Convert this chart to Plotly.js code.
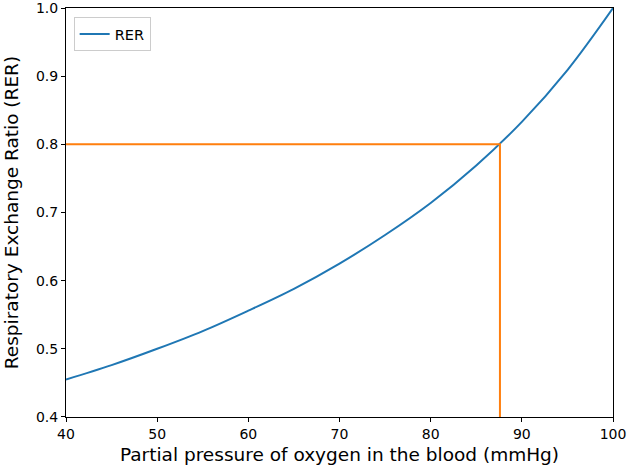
<!DOCTYPE html>
<html>
<head>
<meta charset="utf-8">
<script src="https://cdn.plot.ly/plotly-3.0.1.min.js"></script>
<style>html,body{margin:0;padding:0;background:#fff;}</style>
</head>
<body>
<div id="chart" style="width:630px;height:472px;"></div>
<script>
// Partial pressure of oxygen (mmHg) and read-off RER values
const pressure = [40, 45, 50, 55, 60, 65, 70, 75, 80, 85, 90, 95, 100];
const rer = [0.455, 0.476, 0.500, 0.526, 0.556, 0.588, 0.625, 0.667, 0.714, 0.769, 0.833, 0.909, 1.000];
// Guide lines marking RER = 0.8
const guideX = [40, 87.6, 87.6];
const guideY = [0.8, 0.8, 0.4];
const xTicks = [40, 50, 60, 70, 80, 90, 100];
const yTicks = [0.4, 0.5, 0.6, 0.7, 0.8, 0.9, 1.0];

const font = "DejaVu Sans, sans-serif";
const traces = [
  {x: pressure, y: rer, type: 'scatter', mode: 'lines', name: 'RER',
   line: {color: '#1f77b4', width: 2, shape: 'spline'}},
  {x: guideX, y: guideY, type: 'scatter', mode: 'lines', showlegend: false,
   line: {color: '#ff7f0e', width: 2}}
];
const axisBase = {
  showgrid: false, zeroline: false, showline: true, mirror: true,
  linecolor: '#000', linewidth: 1, ticks: 'outside', ticklen: 4, tickwidth: 1,
  tickcolor: '#000', tickfont: {family: font, size: 14, color: '#000'},
  ticklabeloverflow: 'allow'
};
const layout = {
  width: 630, height: 472,
  margin: {l: 66, r: 17, t: 8, b: 55},
  paper_bgcolor: '#fff', plot_bgcolor: '#fff',
  font: {family: font, color: '#000'},
  xaxis: Object.assign({}, axisBase, {
    range: [40, 100], tickvals: xTicks, ticktext: xTicks.map(String),
    title: {text: 'Partial pressure of oxygen in the blood (mmHg)', font: {family: font, size: 18.5, color: '#000'}, standoff: 7}
  }),
  yaxis: Object.assign({}, axisBase, {
    range: [0.3999, 1.0001], tickvals: yTicks, ticktext: yTicks.map(v => v.toFixed(1)),
    title: {text: 'Respiratory Exchange Ratio (RER)', font: {family: font, size: 18.5, color: '#000'}, standoff: 12}
  }),
  legend: {x: 0.014, y: 0.978, xanchor: 'left', yanchor: 'top',
    bgcolor: 'rgba(255,255,255,0.8)', bordercolor: '#cccccc', borderwidth: 1,
    font: {family: font, size: 14.5, color: '#000'}},
  showlegend: true
};
Plotly.newPlot('chart', traces, layout, {displayModeBar: false, staticPlot: true});
</script>
</body>
</html>
